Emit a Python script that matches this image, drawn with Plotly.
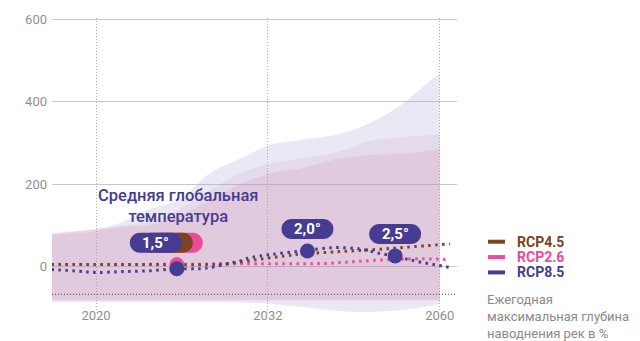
import plotly.graph_objects as go

# Timeline positions (axis units) and their year labels
tick_pos = [0, 10, 20]
tick_years = ["2020", "2032", "2060"]
y_ticks = [0, 200, 400, 600]

# Uncertainty ranges (upper / lower edges)
band_t = [-2.6, 0, 1.4, 3.1, 4.9, 6.6, 8.4, 10.1, 11.9, 14.2, 15.9, 17.7, 19.1, 20]
rcp85_hi = [79, 91, 106, 139, 163, 226, 262, 295, 307, 322, 348, 391, 439, 470]
rcp85_lo = [-86, -86, -86, -86, -86, -86, -87, -90, -98, -108, -110, -106, -98, -90]
rcp45_hi = [77, 86, 98, 110, 140, 185, 226, 250, 262, 280, 305, 314, 318, 322]
rcp45_lo = [-82, -82, -82, -82, -82, -82, -82, -82, -82, -82, -82, -82, -82, -82]
rcp26_hi = [82, 91, 96, 101, 125, 160, 200, 226, 238, 262, 271, 274, 280, 286]
rcp26_lo = [-80, -80, -80, -80, -80, -80, -80, -80, -80, -80, -80, -80, -80, -80]

# Median projections
rcp45_t = [-2.6, 0, 2, 4, 6.5, 8, 9.5, 11, 12, 14, 16, 18, 20.6]
rcp45_v = [5, 5, 5, 5, 5, 9, 18, 26, 31, 36, 41, 47, 55]
rcp26_t = [-2.6, 0, 2, 4, 6, 8, 10, 12, 13.5, 15, 17, 19, 20.6]
rcp26_v = [5, 5, 5, 6, 6, 7, 7, 7, 8, 12, 17, 19, 17]
rcp85_t = [-2.6, -1, 0, 1.5, 3.1, 4.7, 6.05, 6.9, 8.4, 9, 10.1, 11.9, 13.8, 15.35, 16.3, 17.7, 19, 20.6]
rcp85_v = [-7, -11, -14, -12, -10, -5, -5, 0, 14, 22, 29, 38, 46, 43, 34, 22, 10, -2]

# Global mean temperature thresholds on the RCP8.5 curve
temp_t = [4.7, 12.3, 17.4]
temp_v = [-5, 38, 26]
temp_labels = ["1,5°", "2,0°", "2,5°"]
# Same 1.5° threshold reached by RCP4.5 and RCP2.6
early_t = [4.7, 4.7]
early_v = [5, 6]

BROWN = "#7b4423"
PINK = "#ec4b97"
INDIGO = "#463c91"
FONT = "Roboto"

fig = go.Figure()


def band(lo, hi, fillcolor):
    fig.add_trace(go.Scatter(x=band_t, y=lo, mode="lines", line=dict(width=0, shape="spline"),
                             hoverinfo="skip", showlegend=False))
    fig.add_trace(go.Scatter(x=band_t, y=hi, mode="lines", line=dict(width=0, shape="spline"),
                             fill="tonexty", fillcolor=fillcolor, hoverinfo="skip", showlegend=False))


band(rcp85_lo, rcp85_hi, "rgba(165,150,215,0.22)")
band(rcp45_lo, rcp45_hi, "rgba(180,120,170,0.12)")
band(rcp26_lo, rcp26_hi, "rgba(210,105,135,0.14)")


def dotted(t, v, color, name):
    fig.add_trace(go.Scatter(x=t, y=v, mode="lines", name=name,
                             line=dict(color=color, width=3, dash="2.5px,4.5px", shape="spline"),
                             showlegend=False))


dotted(rcp26_t, rcp26_v, PINK, "RCP2.6")
dotted(rcp45_t, rcp45_v, BROWN, "RCP4.5")
dotted(rcp85_t, rcp85_v, INDIGO, "RCP8.5")

fig.add_trace(go.Scatter(x=early_t, y=early_v, mode="markers",
                         marker=dict(size=14, color=[BROWN, PINK]), showlegend=False))
fig.add_trace(go.Scatter(x=temp_t, y=temp_v, mode="markers",
                         marker=dict(size=15, color=INDIGO), showlegend=False))


def pill_path(cx, cy, w=52, h=20):
    r = h / 2
    k = 0.5523 * r
    x0, x1 = cx - w / 2, cx + w / 2
    y0, y1 = cy - h / 2, cy + h / 2
    return (f"M{x0 + r},{y0} L{x1 - r},{y0} "
            f"C{x1 - r + k},{y0} {x1},{cy - k} {x1},{cy} "
            f"C{x1},{cy + k} {x1 - r + k},{y1} {x1 - r},{y1} "
            f"L{x0 + r},{y1} "
            f"C{x0 + r - k},{y1} {x0},{cy + k} {x0},{cy} "
            f"C{x0},{cy - k} {x0 + r - k},{y0} {x0 + r},{y0} Z")


shapes = []
annotations = []

# badge stacks: (colour, dx, dy) per layer, back to front
badge_layers = [
    [(PINK, 0, 26), (BROWN, -10, 26), (INDIGO, -21, 26)],
    [(INDIGO, 0, 22)],
    [(INDIGO, 0, 22)],
]
for t, v, label, layers in zip(temp_t, temp_v, temp_labels, badge_layers):
    for color, dx, dy in layers:
        shapes.append(dict(type="path", xref="x", yref="y", xsizemode="pixel", ysizemode="pixel",
                           xanchor=t, yanchor=v, path=pill_path(dx, dy),
                           fillcolor=color, line=dict(width=0), layer="above"))
    dx, dy = layers[-1][1], layers[-1][2]
    annotations.append(dict(x=t, y=v, xref="x", yref="y", xshift=dx, yshift=dy, text=f"<b>{label}</b>",
                            showarrow=False, font=dict(family=FONT, size=15, color="white")))

# dotted baseline
shapes.append(dict(type="line", xref="paper", yref="y", x0=0, x1=1, y0=-67, y1=-67,
                   line=dict(color="#444444", width=1, dash="1px,2px"), layer="above"))

annotations.append(dict(x=4.77, y=146, xref="x", yref="y", showarrow=False,
                        text="Средняя глобальная<br>температура", align="center",
                        font=dict(family=FONT, size=16.5, color=INDIGO, weight=500)))

# legend
legend_items = [("RCP4.5", BROWN, 241), ("RCP2.6", PINK, 256.5), ("RCP8.5", INDIGO, 272)]
for name, color, ypx in legend_items:
    yp = (312 - ypx) / 297
    shapes.append(dict(type="line", xref="paper", yref="paper",
                       x0=(488 - 52) / 405, x1=(505 - 52) / 405, y0=yp, y1=yp,
                       line=dict(color=color, width=4)))
    annotations.append(dict(x=(516 - 52) / 405, y=yp, xref="paper", yref="paper", xanchor="left",
                            yanchor="middle", showarrow=False, text=f"<b>{name}</b>", borderpad=0,
                            font=dict(family=FONT, size=14, color=color)))

annotations.append(dict(x=(486 - 52) / 405, y=(312 - 291) / 297, xref="paper", yref="paper",
                        xanchor="left", yanchor="top", align="left", showarrow=False, borderpad=0,
                        text="Ежегодная<br>максимальная глубина<br>наводнения рек в %",
                        font=dict(family=FONT, size=13, color="#8a8a8a")))

fig.update_layout(
    width=640, height=341,
    margin=dict(l=52, r=183, t=15, b=29),
    paper_bgcolor="white", plot_bgcolor="white",
    showlegend=False,
    shapes=shapes, annotations=annotations,
    xaxis=dict(range=[-2.56, 21.0], tickvals=tick_pos, ticktext=tick_years,
               showgrid=True, gridcolor="#b0b0b0", griddash="1px,2px", gridwidth=1,
               zeroline=False, showline=False, ticks="", ticklabelstandoff=-6,
               tickfont=dict(family=FONT, size=13, color="#8f8f8f")),
    yaxis=dict(range=[-110, 603], tickvals=y_ticks,
               showgrid=True, gridcolor="#c8c8c8", gridwidth=1,
               zeroline=False, showline=False, ticks="", ticklabelstandoff=4,
               tickfont=dict(family=FONT, size=13, color="#8f8f8f")),
)

fig.write_html("out.html")
